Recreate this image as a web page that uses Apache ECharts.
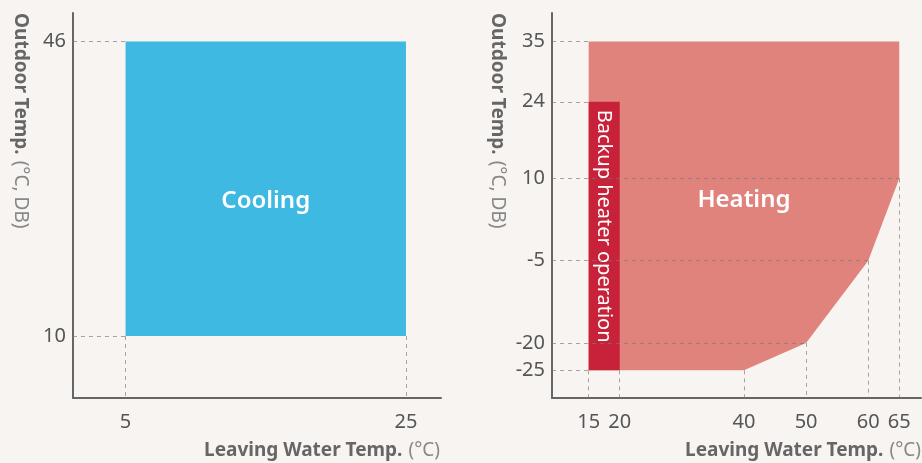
<!DOCTYPE html>
<html>
<head>
<meta charset="utf-8">
<script src="https://cdn.jsdelivr.net/npm/echarts@6/dist/echarts.min.js"></script>
<style>
html,body{margin:0;padding:0;background:#F7F4F1;}
#c{width:922px;height:463px;}
</style>
</head>
<body>
<div id="c"></div>
<script>
// ---- Data ----
const coolXTicks = [5, 25];
const coolYTicks = [10, 46];
const coolRect = [5, 10, 25, 46]; // xMin, yMin, xMax, yMax
const heatXTicks = [15, 20, 40, 50, 60, 65];
const heatYTicks = [-25, -20, -5, 10, 24, 35];
const heatX = [15, 65, 65, 60, 50, 40, 15];
const heatY = [35, 35, 10, -5, -20, -25, -25];
const backupRect = [15, -25, 20, 24];
const coolLabel = ['Cooling', 15, 26.5];
const heatLabel = ['Heating', 40, 6];
const backupLabel = ['Backup heater operation', 17.5, 1.3];

// axis ranges (layout)
const L = {xMin: 1.25, xMax: 27.5, yMin: 2.42, yMax: 49.5};
const R = {xMin: 9.1, xMax: 68.5, yMin: -30.05, yMax: 40.2};

const FONT = '"Noto Sans", "Open Sans", sans-serif';
const axisColor = '#666';
const labelColor = '#555';
const dashColor = 'rgba(120,120,120,0.65)';

function valAxis(idx, min, max, ticks, isX) {
  return {
    type: 'value', gridIndex: idx, min: min, max: max,
    axisLine: {show: true, onZero: false, lineStyle: {color: axisColor, width: 2}},
    axisTick: {show: false},
    splitLine: {show: false},
    axisLabel: {
      customValues: ticks, color: labelColor, fontSize: 20, fontFamily: FONT,
      margin: isX ? 14 : 7
    }
  };
}

const heatPts = heatX.map((x, i) => [x, heatY[i]]);

const coolGuides = [
  [[L.xMin, coolRect[3]], [coolRect[0], coolRect[3]]],
  [[L.xMin, coolRect[1]], [coolRect[0], coolRect[1]]],
  [[coolRect[0], coolRect[1]], [coolRect[0], L.yMin]],
  [[coolRect[2], coolRect[1]], [coolRect[2], L.yMin]]
];
const heatGuides = [];
heatGuides.push([[R.xMin, heatPts[0][1]], heatPts[0]]);
heatGuides.push([[R.xMin, backupRect[3]], [backupRect[0], backupRect[3]]]);
heatPts.slice(2, 5).forEach(p => heatGuides.push([[R.xMin, p[1]], p]));
heatGuides.push([[R.xMin, backupRect[1]], [backupRect[0], backupRect[1]]]);
[[backupRect[0], backupRect[1]], [backupRect[2], backupRect[1]]].concat(heatPts.slice(2, 6)).forEach(p => {
  heatGuides.push([p, [p[0], R.yMin]]);
});

const richName = {
  b: {font: 'bold 19px ' + FONT, fill: '#666'},
  n: {font: '19px ' + FONT, fill: '#888', padding: [0, 0, 0, 6]}
};

const chart = echarts.init(document.getElementById('c'));
chart.setOption({
  backgroundColor: '#F7F4F1',
  animation: false,
  grid: [
    {left: 73, top: 13, width: 368, height: 385},
    {left: 552, top: 13, width: 369, height: 385}
  ],
  xAxis: [
    valAxis(0, L.xMin, L.xMax, coolXTicks, true),
    valAxis(1, R.xMin, R.xMax, heatXTicks, true)
  ],
  yAxis: [
    valAxis(0, L.yMin, L.yMax, coolYTicks, false),
    valAxis(1, R.yMin, R.yMax, heatYTicks, false)
  ],
  series: [
    {
      type: 'custom', xAxisIndex: 0, yAxisIndex: 0,
      data: [coolRect],
      renderItem: function (params, api) {
        const p1 = api.coord([api.value(0), api.value(3)]);
        const p2 = api.coord([api.value(2), api.value(1)]);
        const c = api.coord([coolLabel[1], coolLabel[2]]);
        return {type: 'group', children: [
          {type: 'rect', shape: {x: p1[0], y: p1[1], width: p2[0] - p1[0], height: p2[1] - p1[1]},
           style: {fill: '#3DB9E2'}},
          {type: 'text', x: c[0], y: c[1], style: {text: coolLabel[0], fill: '#fff',
            font: '600 24px ' + FONT, align: 'center', verticalAlign: 'middle'}}
        ]};
      }
    },
    {
      type: 'custom', xAxisIndex: 1, yAxisIndex: 1,
      data: heatPts,
      renderItem: function (params, api) {
        if (params.dataIndex !== 0) return null;
        const pts = heatPts.map(p => api.coord(p));
        const c = api.coord([heatLabel[1], heatLabel[2]]);
        return {type: 'group', children: [
          {type: 'polygon', shape: {points: pts}, style: {fill: '#E0837D'}},
          {type: 'text', x: c[0], y: c[1], style: {text: heatLabel[0], fill: '#fff',
            font: '600 24px ' + FONT, align: 'center', verticalAlign: 'middle'}}
        ]};
      }
    },
    {
      type: 'custom', xAxisIndex: 1, yAxisIndex: 1,
      data: [backupRect],
      renderItem: function (params, api) {
        const p1 = api.coord([api.value(0), api.value(3)]);
        const p2 = api.coord([api.value(2), api.value(1)]);
        const c = api.coord([backupLabel[1], backupLabel[2]]);
        return {type: 'group', children: [
          {type: 'rect', shape: {x: p1[0], y: p1[1], width: p2[0] - p1[0], height: p2[1] - p1[1]},
           style: {fill: '#C8213A'}},
          {type: 'text', x: c[0], y: c[1], rotation: -Math.PI / 2,
           style: {text: backupLabel[0], fill: '#fff', font: '20px ' + FONT,
            align: 'center', verticalAlign: 'middle'}}
        ]};
      }
    },
    {
      type: 'lines', coordinateSystem: 'cartesian2d', xAxisIndex: 0, yAxisIndex: 0,
      data: coolGuides.map(s => ({coords: s})), silent: true, z: 5,
      lineStyle: {color: dashColor, width: 1, type: [4, 4], opacity: 1}
    },
    {
      type: 'lines', coordinateSystem: 'cartesian2d', xAxisIndex: 1, yAxisIndex: 1,
      data: heatGuides.map(s => ({coords: s})), silent: true, z: 5,
      lineStyle: {color: dashColor, width: 1, type: [4, 4], opacity: 1}
    }
  ],
  graphic: [
    {type: 'text', x: 20, y: 13, rotation: -Math.PI / 2,
     style: {text: '{b|Outdoor Temp.}{n|(°C, DB)}', align: 'left', verticalAlign: 'middle', rich: richName}},
    {type: 'text', x: 497, y: 13, rotation: -Math.PI / 2,
     style: {text: '{b|Outdoor Temp.}{n|(°C, DB)}', align: 'left', verticalAlign: 'middle', rich: richName}},
    {type: 'text', x: 440, y: 451,
     style: {text: '{b|Leaving Water Temp.}{n|(°C)}', align: 'right', verticalAlign: 'middle', rich: richName}},
    {type: 'text', x: 921, y: 451,
     style: {text: '{b|Leaving Water Temp.}{n|(°C)}', align: 'right', verticalAlign: 'middle', rich: richName}}
  ]
});
</script>
</body>
</html>
